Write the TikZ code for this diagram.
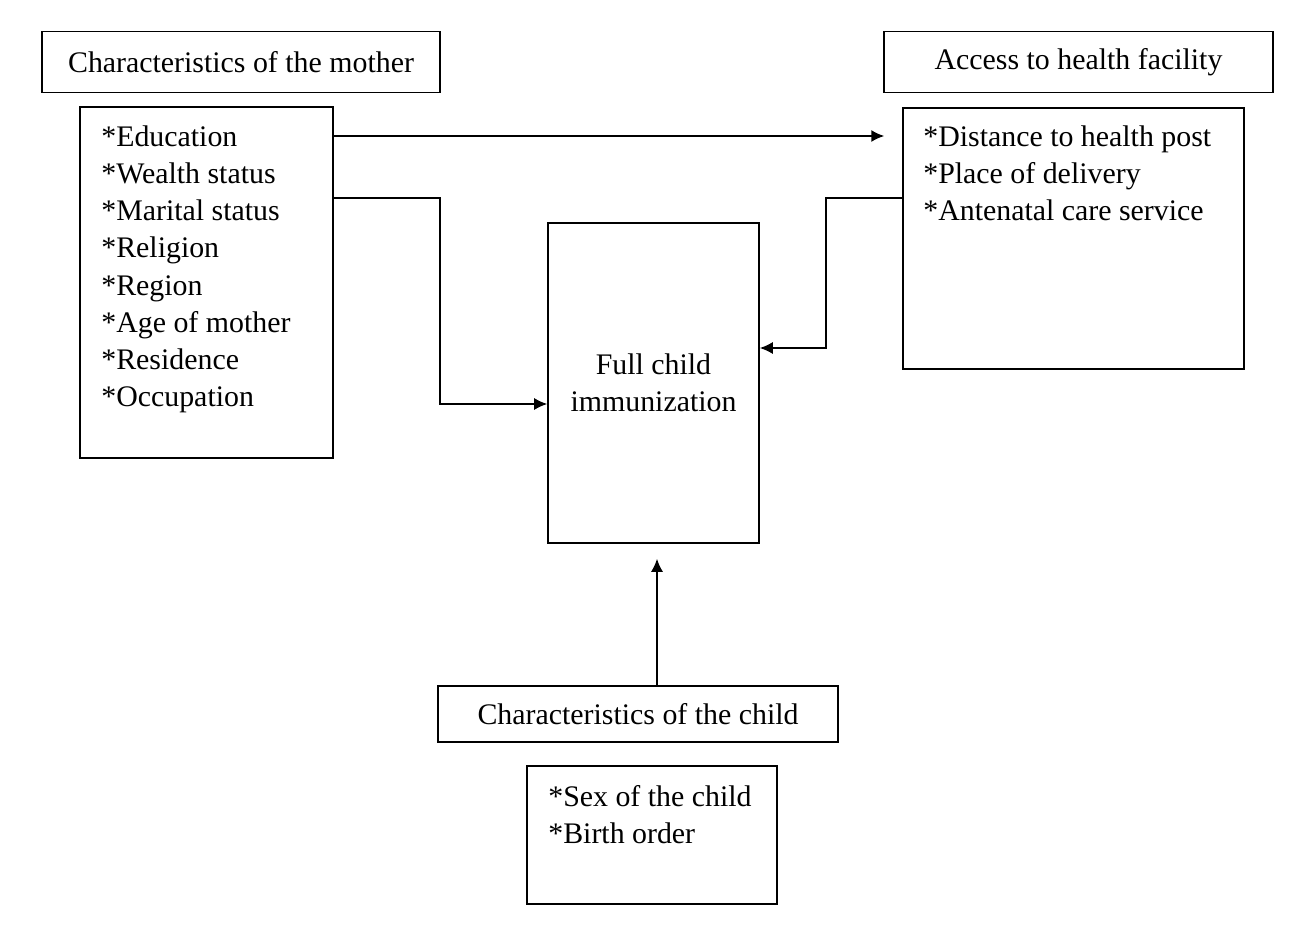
\documentclass[tikz,border=0pt]{standalone}
\usepackage{fontspec}
\setmainfont{Liberation Serif}
\usetikzlibrary{arrows.meta,calc}
\begin{document}
\begin{tikzpicture}[x=0.02cm,y=-0.02cm,
  box/.style={draw=black,line width=0.9pt,rectangle,inner sep=0pt},
  txt/.style={font=\fontsize{17}{21.2}\selectfont,inner sep=0pt},
  lst/.style={txt,align=left,anchor=north west},
  arr/.style={line width=0.9pt,-{Latex[length=2.6mm,width=2.4mm]}}]
\useasboundingbox (0,0) rectangle (1307,942);
% boxes
\node[box,minimum width=7.96cm,minimum height=1.22cm,txt] (mtitle) at (241,62) {Characteristics of the mother};
\node[box,minimum width=5.06cm,minimum height=7.02cm] (mlist) at (206.5,282.5) {};
\node[box,minimum width=7.78cm,minimum height=1.22cm,txt] (atitle) at (1078.5,62) {Access to health facility};
\node[box,minimum width=6.82cm,minimum height=5.22cm] (alist) at (1073.5,238.5) {};
\node[box,minimum width=4.22cm,minimum height=6.4cm,txt,align=center] (fci) at (653.5,383) {Full child\\immunization};
\node[box,minimum width=8.0cm,minimum height=1.12cm,txt] (ctitle) at (638,714) {Characteristics of the child};
\node[box,minimum width=5.0cm,minimum height=2.76cm] (clist) at (652,835) {};
% list texts
\node[lst] (mtext) at (101,125) {*Education\\*Wealth status\\*Marital status\\*Religion\\*Region\\*Age of mother\\*Residence\\*Occupation};
\node[lst] (atext) at (923,125) {*Distance to health post\\*Place of delivery\\*Antenatal care service};
\node[lst] (ctext) at (548,785) {*Sex of the child\\*Birth order};
% helper coordinates
\coordinate (m1) at (0,136);
\coordinate (m2) at (0,198);
\coordinate (j1) at (440,404);
\coordinate (j2) at (826,348);
\coordinate (j3) at (657,0);
% connectors
\draw[arr,shorten >=0.36cm] (mlist.east|-m1) -- (alist.west|-m1);
\draw[arr] (mlist.east|-m2) -| (j1) -- (fci.west|-j1);
\draw[arr] (alist.west|-m2) -| (j2) -- (fci.east|-j2);
\draw[arr,shorten >=0.3cm] (ctitle.north-|j3) -- (fci.south-|j3);
\end{tikzpicture}
\end{document}
